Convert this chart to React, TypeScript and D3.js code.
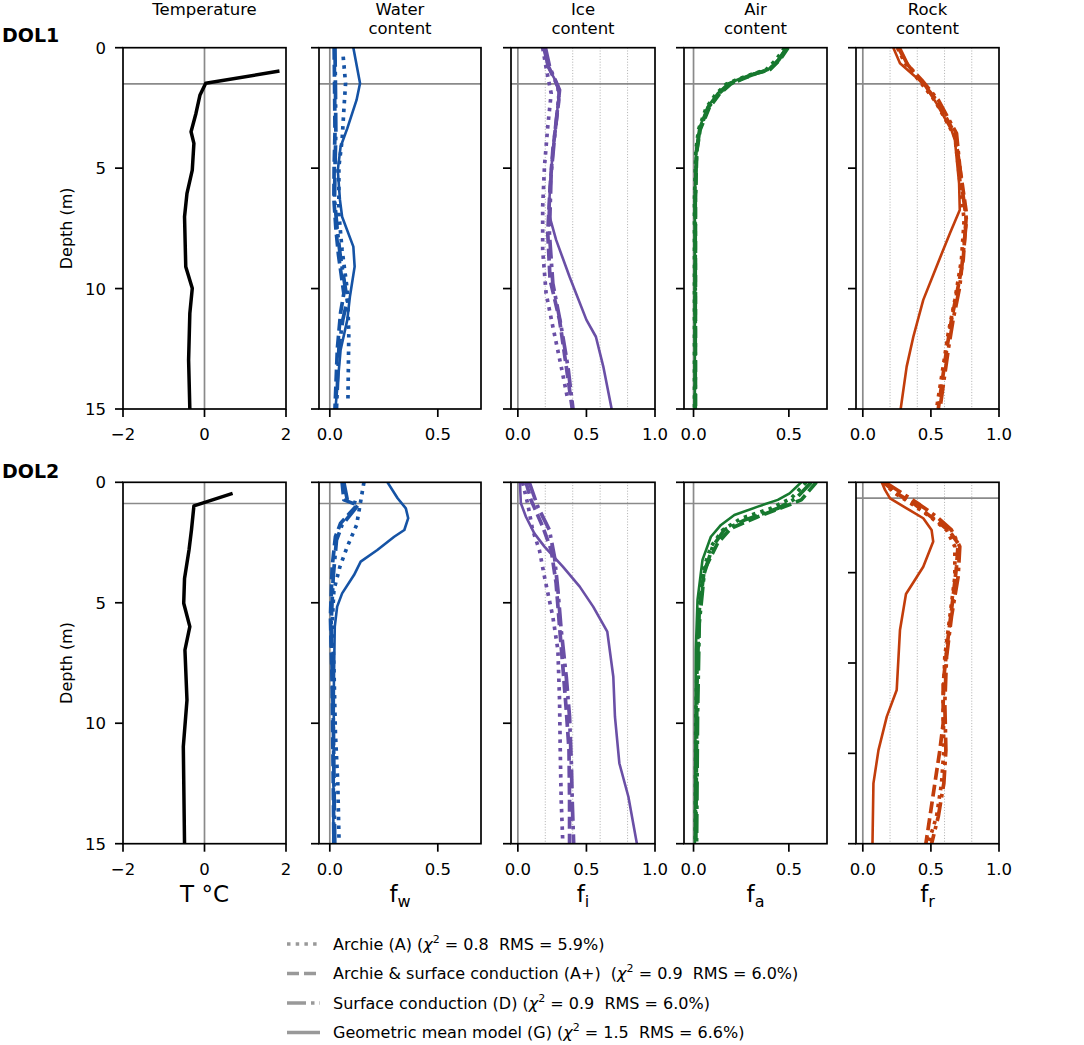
import React from 'react';
import * as d3 from 'd3';

type Pt = [number, number]; // [depth (m), value]

// ---- DOL1 ----
const tempDol1: Pt[] = [[0.97, 1.84], [1.48, 0.03], [1.96, -0.11], [2.73, -0.21], [3.49, -0.33], [3.97, -0.26], [5.08, -0.3], [6.05, -0.43], [7.02, -0.49], [9.09, -0.46], [9.99, -0.3], [11.03, -0.36], [12.97, -0.39], [15, -0.36]];

const waterDol1A: Pt[] = [[0.37, 0.062], [1.48, 0.073], [2.59, 0.065], [3.83, 0.057], [4.94, 0.042], [6.88, 0.042], [8.4, 0.057], [10.06, 0.081], [11.86, 0.088], [14.63, 0.084]];
const waterDol1Ap: Pt[] = [[0, 0.02], [1.5, 0.022], [3.5, 0.024], [5, 0.02], [6.3, 0.019], [7.5, 0.028], [8.6, 0.04], [10.2, 0.065], [11, 0.05], [12.5, 0.035], [15, 0.024]];
const waterDol1D: Pt[] = [[0, 0.024], [1.5, 0.026], [3.5, 0.028], [5, 0.024], [6.3, 0.022], [7.5, 0.034], [8.6, 0.048], [10.5, 0.081], [11.3, 0.06], [12.5, 0.042], [15, 0.031]];
const waterDol1G: Pt[] = [[0, 0.109], [1.48, 0.14], [2.17, 0.124], [3.35, 0.081], [4.11, 0.05], [5.08, 0.037], [6.32, 0.047], [7.02, 0.057], [8.26, 0.109], [9.09, 0.115], [10.34, 0.093], [11.3, 0.081], [12.55, 0.05], [15, 0.026]];

const iceDol1A: Pt[] = [[0, 0.181], [0.8, 0.205], [1.9, 0.243], [3.28, 0.218], [4.94, 0.194], [6.6, 0.181], [8.4, 0.181], [10.2, 0.206], [11.58, 0.255], [13.24, 0.316], [14.63, 0.365]];
const iceDol1Ap: Pt[] = [[0, 0.194], [0.8, 0.225], [1.62, 0.292], [2.17, 0.299], [4.25, 0.255], [5.77, 0.235], [7.7, 0.218], [9.63, 0.235], [11.3, 0.304], [13.24, 0.353], [15, 0.397]];
const iceDol1D: Pt[] = [[0, 0.201], [0.8, 0.232], [1.76, 0.304], [3.28, 0.275], [5.2, 0.243], [7.7, 0.23], [9.78, 0.255], [11.58, 0.316], [13.24, 0.365], [15, 0.402]];
const iceDol1G: Pt[] = [[0, 0.186], [0.79, 0.218], [1.41, 0.279], [1.9, 0.299], [3.14, 0.279], [4.25, 0.255], [5.77, 0.235], [6.88, 0.225], [7.98, 0.279], [9.51, 0.377], [11.3, 0.5], [12.0, 0.569], [13.24, 0.623], [15, 0.684]];

const airDol1A: Pt[] = [[0, 0.478], [0.51, 0.432], [0.93, 0.378], [1.1, 0.305], [1.3, 0.235], [1.52, 0.17], [1.95, 0.115], [2.5, 0.066], [3.4, 0.026], [4.3, 0.012], [6.3, 0.005], [15, 0.005]];
const airDol1Ap: Pt[] = [[0, 0.496], [0.51, 0.452], [0.9, 0.402], [1.05, 0.335], [1.28, 0.262], [1.5, 0.196], [1.92, 0.136], [2.5, 0.082], [3.4, 0.035], [4.3, 0.017], [6.3, 0.01], [15, 0.01]];
const airDol1D: Pt[] = [[0, 0.49], [0.51, 0.447], [0.92, 0.395], [1.07, 0.327], [1.28, 0.256], [1.5, 0.19], [1.92, 0.131], [2.48, 0.078], [3.38, 0.033], [4.3, 0.016], [6.3, 0.009], [15, 0.009]];
const airDol1G: Pt[] = [[0, 0.486], [0.51, 0.442], [0.93, 0.389], [1.07, 0.319], [1.27, 0.249], [1.48, 0.182], [1.9, 0.126], [2.45, 0.074], [3.35, 0.03], [4.25, 0.014], [6.32, 0.007], [15, 0.007]];

const rockDol1A: Pt[] = [[0, 0.254], [0.65, 0.31], [1.41, 0.42], [2.2, 0.53], [3.69, 0.676], [5.49, 0.712], [7.15, 0.744], [8.81, 0.724], [10.47, 0.676], [11.86, 0.627], [13.24, 0.59], [15, 0.541]];
const rockDol1Ap: Pt[] = [[0, 0.261], [0.65, 0.322], [1.34, 0.42], [2.17, 0.541], [3.56, 0.676], [4.94, 0.712], [6.88, 0.761], [8.81, 0.737], [9.92, 0.7], [11.3, 0.651], [12.55, 0.615], [15, 0.554]];
const rockDol1D: Pt[] = [[0, 0.268], [0.72, 0.33], [1.34, 0.432], [2.17, 0.554], [3.56, 0.688], [5.63, 0.724], [7.15, 0.761], [8.54, 0.737], [9.92, 0.712], [11.3, 0.663], [12.55, 0.627], [15, 0.566]];
const rockDol1G: Pt[] = [[0, 0.224], [0.65, 0.273], [1.13, 0.371], [1.48, 0.444], [2.31, 0.541], [3.42, 0.651], [3.83, 0.676], [5.63, 0.707], [6.74, 0.712], [7.71, 0.639], [9.09, 0.541], [10.47, 0.444], [12.0, 0.371], [13.24, 0.322], [15, 0.278]];

// ---- DOL2 ----
const tempDol2: Pt[] = [[0.46, 0.69], [0.98, -0.26], [1.98, -0.32], [2.81, -0.38], [3.99, -0.49], [5.02, -0.51], [5.99, -0.36], [6.96, -0.48], [9.04, -0.43], [10.97, -0.52], [15, -0.49]];

const waterDol2A: Pt[] = [[0, 0.158], [0.94, 0.14], [1.77, 0.124], [2.67, 0.081], [3.5, 0.047], [4.47, 0.019], [5.85, 0.011], [7.65, 0.019], [10.42, 0.026], [12.49, 0.037], [15, 0.043]];
const waterDol2Ap: Pt[] = [[0, 0.057], [0.73, 0.065], [0.94, 0.127], [1.7, 0.05], [2.26, 0.026], [3.5, 0.011], [5.58, 0.003], [8.34, 0.011], [15, 0.019]];
const waterDol2D: Pt[] = [[0, 0.065], [0.73, 0.081], [0.9, 0.135], [1.77, 0.057], [2.4, 0.031], [3.9, 0.016], [5.85, 0.006], [9.7, 0.016], [15, 0.023]];
const waterDol2G: Pt[] = [[0, 0.267], [0.66, 0.314], [1.08, 0.352], [1.49, 0.363], [1.98, 0.345], [2.26, 0.298], [2.81, 0.22], [3.29, 0.143], [3.85, 0.112], [4.61, 0.057], [5.16, 0.034], [5.99, 0.023], [8.34, 0.019], [15, 0.016]];

const iceDol2A: Pt[] = [[0, 0.034], [0.87, 0.071], [1.98, 0.108], [2.81, 0.157], [3.92, 0.194], [5.58, 0.255], [6.96, 0.292], [9.04, 0.304], [11.11, 0.309], [13.19, 0.316], [15, 0.328]];
const iceDol2Ap: Pt[] = [[0, 0.059], [0.73, 0.096], [1.84, 0.181], [2.81, 0.243], [4.19, 0.279], [5.99, 0.304], [7.65, 0.328], [9.45, 0.353], [11.11, 0.373], [13.19, 0.377], [15, 0.377]];
const iceDol2D: Pt[] = [[0, 0.083], [1.01, 0.145], [1.98, 0.23], [3.09, 0.267], [4.47, 0.292], [6.13, 0.316], [8.07, 0.353], [9.73, 0.377], [11.66, 0.39], [13.32, 0.397], [15, 0.407]];
const iceDol2G: Pt[] = [[0, 0.015], [0.87, 0.022], [1.43, 0.059], [2.12, 0.12], [2.67, 0.194], [3.5, 0.328], [4.33, 0.451], [5.16, 0.549], [6.2, 0.652], [8.07, 0.696], [9.73, 0.708], [11.66, 0.74], [13.05, 0.806], [15, 0.868]];

const airDol2A: Pt[] = [[0, 0.591], [0.66, 0.512], [1.08, 0.407], [1.5, 0.249], [1.98, 0.153], [2.67, 0.091], [3.64, 0.051], [5.58, 0.025], [9.73, 0.012], [15, 0.009]];
const airDol2Ap: Pt[] = [[0, 0.644], [0.73, 0.565], [1.01, 0.477], [1.43, 0.337], [1.91, 0.196], [2.53, 0.126], [3.64, 0.056], [5.3, 0.03], [8.34, 0.018], [15, 0.012]];
const airDol2D: Pt[] = [[0, 0.618], [0.66, 0.539], [1.08, 0.442], [1.57, 0.267], [1.98, 0.161], [2.67, 0.1], [3.78, 0.056], [5.85, 0.03], [9.73, 0.021], [15, 0.016]];
const airDol2G: Pt[] = [[0, 0.565], [0.46, 0.504], [0.73, 0.442], [1.01, 0.337], [1.36, 0.214], [1.77, 0.144], [2.26, 0.091], [3.22, 0.047], [4.88, 0.021], [6.96, 0.012], [15, 0.007]];

// rock content at DOL2 is plotted down to 20 m
const rockDol2A: Pt[] = [[0, 0.146], [0.61, 0.237], [1.25, 0.371], [1.9, 0.493], [2.64, 0.615], [3.56, 0.676], [5.22, 0.676], [7.44, 0.639], [9.65, 0.602], [12.23, 0.59], [14.82, 0.595], [16.66, 0.578], [18.5, 0.541], [20, 0.48]];
const rockDol2Ap: Pt[] = [[0, 0.151], [0.61, 0.249], [1.16, 0.371], [1.72, 0.468], [2.27, 0.566], [2.73, 0.639], [3.38, 0.7], [4.67, 0.688], [6.33, 0.663], [8.54, 0.627], [11.12, 0.59], [13.34, 0.59], [14.82, 0.566], [16.66, 0.529], [18.5, 0.493], [20, 0.463]];
const rockDol2D: Pt[] = [[0, 0.163], [0.52, 0.273], [1.25, 0.42], [1.9, 0.541], [2.64, 0.651], [3.56, 0.712], [5.22, 0.7], [7.44, 0.651], [9.65, 0.615], [12.23, 0.602], [14.82, 0.61], [16.66, 0.595], [18.5, 0.554], [20, 0.505]];
const rockDol2G: Pt[] = [[0, 0.139], [0.42, 0.163], [0.89, 0.2], [1.44, 0.322], [1.99, 0.444], [2.64, 0.505], [3.28, 0.517], [4.67, 0.444], [6.18, 0.317], [8.17, 0.273], [11.49, 0.249], [12.97, 0.176], [14.82, 0.115], [16.66, 0.078], [20, 0.071]];

const boundaryDepths = [1.5, 0.88];
const rowNames = ['DOL1', 'DOL2'];
const legendLabels = [
  { pre: 'Archie (A) (', chi: '0.8', rms: '5.9%' },
  { pre: 'Archie & surface conduction (A+)  (', chi: '0.9', rms: '6.0%' },
  { pre: 'Surface conduction (D) (', chi: '0.9', rms: '6.0%' },
  { pre: 'Geometric mean model (G) (', chi: '1.5', rms: '6.6%' },
];

const FONT = 'DejaVu Sans, Verdana, sans-serif';
const GRAY = '#8a8a8a';
const dashes: Record<string, string> = { A: '3.5,5.2', Ap: '12,5', D: '19,5,3.5,5', G: '' };
const models = ['A', 'Ap', 'D', 'G'];

interface Col {
  key: string;
  x0: number;
  x1: number;
  domain: [number, number];
  ticks: number[];
  fmt: (v: number) => string;
  title: string[];
  color: string;
  grid: boolean;
  label: string;
  sub: string;
}

const fmt1 = d3.format('.1f');
const columns: Col[] = [
  { key: 'temp', x0: 123, x1: 286, domain: [-2, 2], ticks: [-2, 0, 2], fmt: d3.format('d'), title: ['Temperature'], color: '#000', grid: false, label: 'T °C', sub: '' },
  { key: 'water', x0: 319, x1: 481, domain: [-0.05, 0.7], ticks: [0, 0.5], fmt: fmt1, title: ['Water', 'content'], color: '#1553a5', grid: false, label: 'f', sub: 'w' },
  { key: 'ice', x0: 511, x1: 655, domain: [-0.05, 1.0], ticks: [0, 0.5, 1], fmt: fmt1, title: ['Ice', 'content'], color: '#6a4fa6', grid: true, label: 'f', sub: 'i' },
  { key: 'air', x0: 684, x1: 827, domain: [-0.05, 0.7], ticks: [0, 0.5], fmt: fmt1, title: ['Air', 'content'], color: '#17792f', grid: false, label: 'f', sub: 'a' },
  { key: 'rock', x0: 856, x1: 999, domain: [-0.05, 1.0], ticks: [0, 0.5, 1], fmt: fmt1, title: ['Rock', 'content'], color: '#c23d0b', grid: true, label: 'f', sub: 'r' },
];

const rows = [
  { y0: 47.7, y1: 409, temp: tempDol1,
    water: { A: waterDol1A, Ap: waterDol1Ap, D: waterDol1D, G: waterDol1G },
    ice: { A: iceDol1A, Ap: iceDol1Ap, D: iceDol1D, G: iceDol1G },
    air: { A: airDol1A, Ap: airDol1Ap, D: airDol1D, G: airDol1G },
    rock: { A: rockDol1A, Ap: rockDol1Ap, D: rockDol1D, G: rockDol1G }, rockMax: 15 },
  { y0: 482.3, y1: 843.7, temp: tempDol2,
    water: { A: waterDol2A, Ap: waterDol2Ap, D: waterDol2D, G: waterDol2G },
    ice: { A: iceDol2A, Ap: iceDol2Ap, D: iceDol2D, G: iceDol2G },
    air: { A: airDol2A, Ap: airDol2Ap, D: airDol2D, G: airDol2G },
    rock: { A: rockDol2A, Ap: rockDol2Ap, D: rockDol2D, G: rockDol2G }, rockMax: 20 },
];

const App: React.FC = () => {
  const width = 1084;
  const height = 1045;

  return (
    <svg width={width} height={height} viewBox={`0 0 ${width} ${height}`}
      style={{ position: 'absolute', left: 0, top: 0, background: '#fff' }} fontFamily={FONT}>
      {/* column titles */}
      {columns.map(c => (
        <text key={c.key} x={(c.x0 + c.x1) / 2} y={15} textAnchor="middle" fontSize={16.5}>
          {c.title.map((t, i) => (
            <tspan key={i} x={(c.x0 + c.x1) / 2} dy={i === 0 ? 0 : 18.5}>{t}</tspan>
          ))}
        </text>
      ))}

      {rows.map((row, ri) => {
        const rowH = row.y1 - row.y0;
        return (
          <g key={ri}>
            <text x={2} y={ri === 0 ? 42 : 478} fontSize={19} fontWeight="bold">{rowNames[ri]}</text>
            <text transform={`translate(66,${(row.y0 + row.y1) / 2}) rotate(-90)`} textAnchor="middle"
              dy="0.35em" fontSize={16}>Depth (m)</text>
            {columns.map((c, ci) => {
              const maxDepth = c.key === 'rock' ? row.rockMax : 15;
              const x = d3.scaleLinear().domain(c.domain).range([c.x0, c.x1]);
              const y = d3.scaleLinear().domain([0, maxDepth]).range([row.y0, row.y1]);
              const line = d3.line<Pt>().x(p => x(p[1])).y(p => y(p[0]));
              const clipId = `clip-${ri}-${ci}`;
              const yTicks = d3.range(0, maxDepth + 0.01, 5);
              const series: [string, Pt[]][] = c.key === 'temp'
                ? [['T', row.temp]]
                : models.map(m => [m, (row as any)[c.key][m] as Pt[]]);
              return (
                <g key={c.key}>
                  <clipPath id={clipId}>
                    <rect x={c.x0} y={row.y0} width={c.x1 - c.x0} height={rowH} />
                  </clipPath>
                  {c.grid && [0.2, 0.4, 0.6, 0.8].map(g => (
                    <line key={g} x1={x(g)} x2={x(g)} y1={row.y0} y2={row.y1}
                      stroke="#9a9a9a" strokeWidth={0.8} strokeDasharray="1,1.8" />
                  ))}
                  <line x1={x(0)} x2={x(0)} y1={row.y0} y2={row.y1} stroke={GRAY} strokeWidth={1.7} />
                  <line x1={c.x0} x2={c.x1} y1={y(boundaryDepths[ri])} y2={y(boundaryDepths[ri])} stroke={GRAY} strokeWidth={1.7} />
                  <g clipPath={`url(#${clipId})`}>
                    {series.map(([m, pts]) => (
                      <path key={m} d={line(pts) || undefined} fill="none" stroke={c.color}
                        strokeWidth={m === 'T' ? 3.5 : m === 'G' ? 2.6 : 3.7}
                        strokeDasharray={m === 'T' ? undefined : dashes[m] || undefined}
                        strokeLinejoin="round" />
                    ))}
                  </g>
                  <rect x={c.x0} y={row.y0} width={c.x1 - c.x0} height={rowH} fill="none" stroke="#000" strokeWidth={1.7} />
                  {/* y ticks */}
                  {yTicks.map(t => (
                    <g key={t}>
                      <line x1={c.x0 - 8} x2={c.x0} y1={y(t)} y2={y(t)} stroke="#000" strokeWidth={1.7} />
                      {ci === 0 && (
                        <text x={c.x0 - 17} y={y(t)} dy="0.36em" textAnchor="end" fontSize={16.5}>{t}</text>
                      )}
                    </g>
                  ))}
                  {/* x ticks */}
                  {c.ticks.map(t => (
                    <g key={t}>
                      <line x1={x(t)} x2={x(t)} y1={row.y1} y2={row.y1 + 8} stroke="#000" strokeWidth={1.7} />
                      <text x={x(t)} y={row.y1 + 31} textAnchor="middle" fontSize={16.5}>{c.fmt(t)}</text>
                    </g>
                  ))}
                  {ri === 1 && (
                    <text x={(c.x0 + c.x1) / 2} y={902} textAnchor="middle" fontSize={23}>
                      {c.label}
                      {c.sub && <tspan fontSize={16} dy={5}>{c.sub}</tspan>}
                    </text>
                  )}
                </g>
              );
            })}
          </g>
        );
      })}

      {/* legend */}
      {legendLabels.map((l, i) => {
        const cy = 944 + i * 29.5;
        return (
          <g key={i}>
            <line x1={287} x2={320} y1={cy} y2={cy} stroke="#999" strokeWidth={3.3}
              strokeDasharray={dashes[models[i]] || undefined} />
            <text x={333} y={cy} dy="0.36em" fontSize={16} style={{ whiteSpace: 'pre' }}>
              {l.pre}
              <tspan fontStyle="italic">χ</tspan>
              <tspan fontSize={11} dy={-7}>2</tspan>
              <tspan dy={7}>{` = ${l.chi}  RMS = ${l.rms})`}</tspan>
            </text>
          </g>
        );
      })}
    </svg>
  );
};

export default App;
